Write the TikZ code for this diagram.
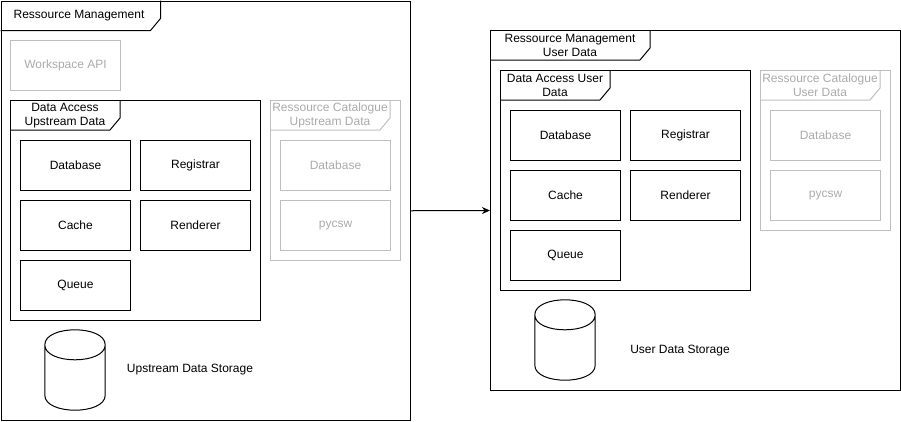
\documentclass[tikz,border=0pt]{standalone}
\usepackage{fontspec}
\setmainfont{Liberation Sans}
\usetikzlibrary{arrows.meta,calc}
\definecolor{dimline}{RGB}{190,190,190}
\definecolor{dimtext}{RGB}{170,170,170}
\tikzset{
  base/.style={font=\fontsize{12}{14.4}\selectfont, inner sep=0pt, anchor=north west},
  frame/.style={base, draw, line width=1pt},
  dimframe/.style={base, draw=dimline, line width=1pt},
  comp/.style={base, draw, line width=1pt, minimum width=110, minimum height=50, text=black},
  dimcomp/.style={base, draw=dimline, line width=1pt, minimum width=110, minimum height=50, text=dimtext},
  tabtext/.style={font=\fontsize{12}{14.4}\selectfont, inner sep=0pt, align=center},
  lbl/.style={font=\fontsize{12}{14.4}\selectfont, inner sep=0pt},
  tabline/.style={line width=1pt},
}
\newcommand{\drawtab}[4]{% frame name, width, height, colour
  \draw[tabline, draw=#4] (#1.north west) ++(#2,0) -- ++(0,#3-12) -- ++(-10,12) -- ($(#1.north west)+(0,#3)$);
}
\newcommand{\drawcyl}[1]{% node name
  \draw[line width=1pt] ($(#1.north west)+(0,15)$) .. controls ($(#1.north west)+(0,-5)$) and ($(#1.north east)+(0,-5)$) .. ($(#1.north east)+(0,15)$)
     .. controls ($(#1.north east)+(0,35)$) and ($(#1.north west)+(0,35)$) .. ($(#1.north west)+(0,15)$)
     -- ($(#1.south west)+(0,-15)$)
     .. controls ($(#1.south west)+(0,5)$) and ($(#1.south east)+(0,5)$) .. ($(#1.south east)+(0,-15)$)
     -- ($(#1.north east)+(0,15)$);
}
\begin{document}
\begin{tikzpicture}[x=1pt,y=-1pt]
\useasboundingbox (0,0) rectangle (901,421);

% ---------- left: Ressource Management ----------
\node[frame, minimum width=409.5, minimum height=419.5] (lf) at (0.5,0.5) {};
\drawtab{lf}{160}{30}{black}
\node[tabtext] (lftab) at (79,16) {Ressource Management};

\node[dimcomp] (wsapi) at (10,40) {Workspace API};

\node[frame, minimum width=250, minimum height=220] (da1) at (10,100) {};
\drawtab{da1}{110}{30}{black}
\node[tabtext] (da1tab) at (65,115.5) {Data Access\\Upstream Data};
\node[comp] (db1) at (20,140) {Database};
\node[comp] (reg1) at (140,140) {Registrar};
\node[comp] (cache1) at (20,200) {Cache};
\node[comp] (rend1) at (140,200) {Renderer};
\node[comp] (queue1) at (20,260) {Queue};

\node[dimframe, minimum width=130, minimum height=160] (cat1) at (270,100) {};
\drawtab{cat1}{120}{30}{dimline}
\node[tabtext, text=dimtext] (cat1tab) at (330,115.5) {Ressource Catalogue\\Upstream Data};
\node[dimcomp] (catdb1) at (280,140) {Database};
\node[dimcomp] (pycsw1) at (280,200) {pycsw};

\node[base, minimum width=60, minimum height=80, anchor=center] (cyl1) at (75,370) {};
\drawcyl{cyl1}
\node[lbl] (cyl1lbl) at (190,370) {Upstream Data Storage};

% ---------- right: Ressource Management User Data ----------
\node[frame, minimum width=410, minimum height=360] (rf) at (490,30) {};
\drawtab{rf}{160}{30}{black}
\node[tabtext] (rftab) at (570,45.5) {Ressource Management\\User Data};

\node[frame, minimum width=250, minimum height=220] (da2) at (500,70) {};
\drawtab{da2}{110}{30}{black}
\node[tabtext] (da2tab) at (555,85.5) {Data Access User\\Data};
\node[comp] (db2) at (510,110) {Database};
\node[comp] (reg2) at (630,110) {Registrar};
\node[comp] (cache2) at (510,170) {Cache};
\node[comp] (rend2) at (630,170) {Renderer};
\node[comp] (queue2) at (510,230) {Queue};

\node[dimframe, minimum width=130, minimum height=160] (cat2) at (760,70) {};
\drawtab{cat2}{120}{30}{dimline}
\node[tabtext, text=dimtext] (cat2tab) at (820,85.5) {Ressource Catalogue\\User Data};
\node[dimcomp] (catdb2) at (770,110) {Database};
\node[dimcomp] (pycsw2) at (770,170) {pycsw};

\node[base, minimum width=60, minimum height=80, anchor=center] (cyl2) at (565,340) {};
\drawcyl{cyl2}
\node[lbl] (cyl2lbl) at (680,351) {User Data Storage};

% ---------- connector ----------
\draw[line width=1pt, -{Stealth[length=8pt,width=7pt,inset=2.5pt]}] (lf.east) -- (rf.west);
\end{tikzpicture}
\end{document}
